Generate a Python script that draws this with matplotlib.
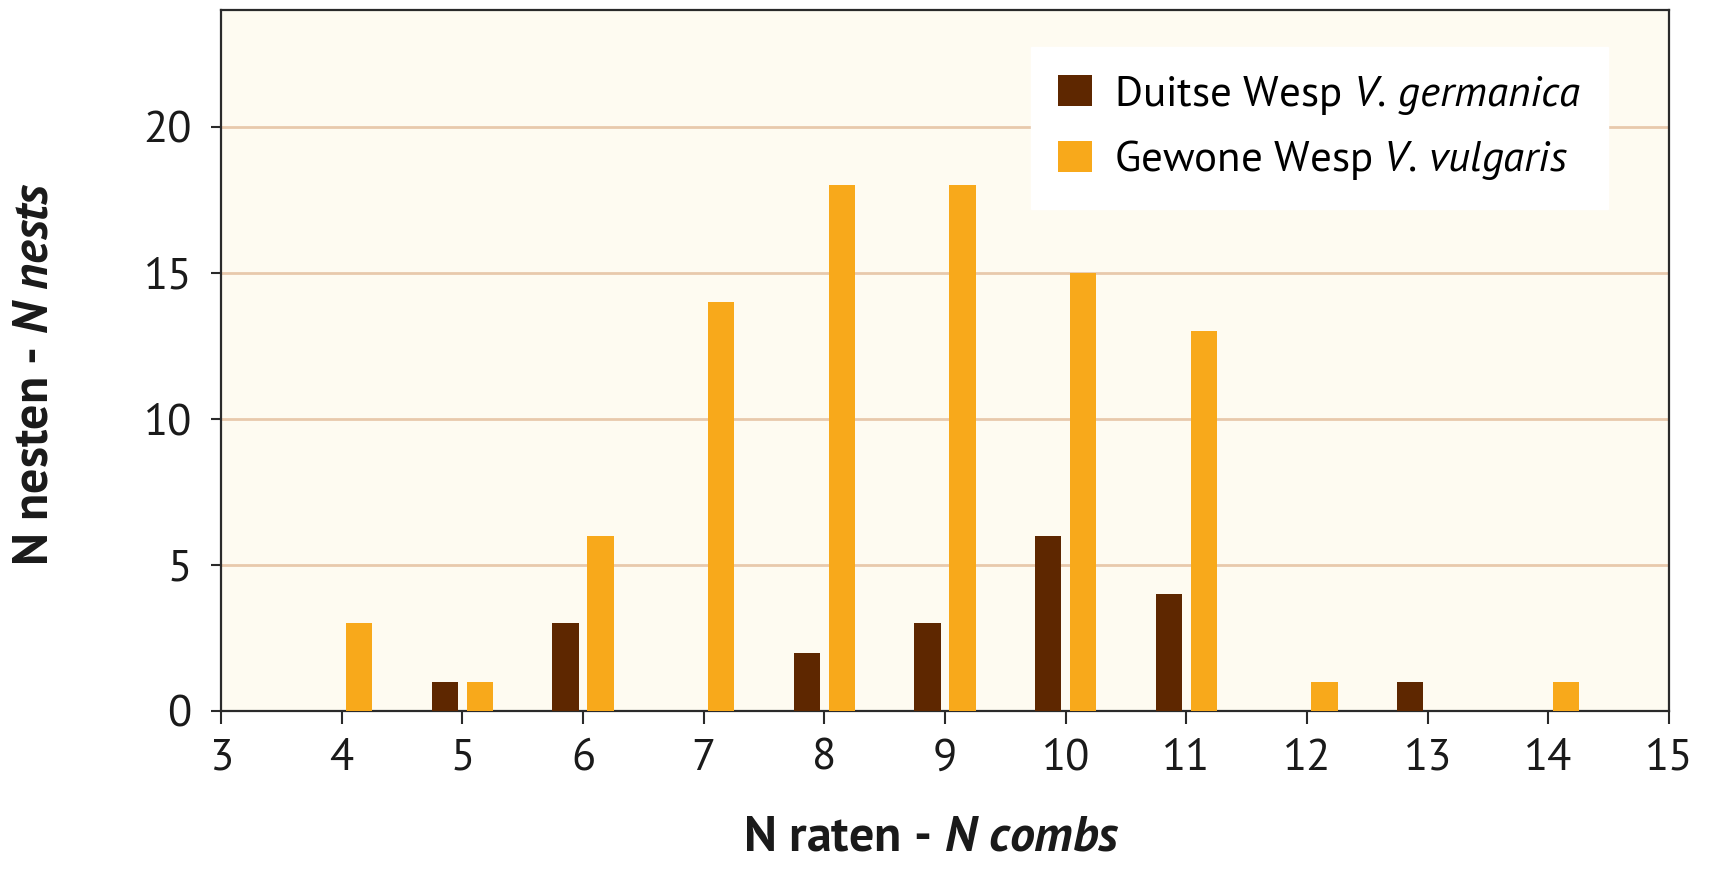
import matplotlib
matplotlib.use("Agg")
import matplotlib.pyplot as plt
from matplotlib.patches import Patch
from matplotlib import font_manager

# Number of combs per nest and how many nests had that many
combs_germanica = [5, 6, 8, 9, 10, 11, 13]
nests_germanica = [1, 3, 2, 3, 6, 4, 1]
combs_vulgaris = [4, 5, 6, 7, 8, 9, 10, 11, 12, 14]
nests_vulgaris = [3, 1, 6, 14, 18, 18, 15, 13, 1, 1]

label_germanica = r"Duitse Wesp $\mathit{V.\,germanica}$"
label_vulgaris = r"Gewone Wesp $\mathit{V.\,vulgaris}$"
xlabel = r"N raten - $\mathbfit{N}$ $\mathbfit{combs}$"
ylabel = r"N nesten - $\mathbfit{N}$ $\mathbfit{nests}$"
xticks = list(range(3, 16))
yticks = [0, 5, 10, 15, 20]

BROWN = "#5E2700"
ORANGE = "#F8A91B"
BG = "#FEFBF1"
GRID = "#E8C9AC"
INK = "#1a1a1a"


def first_font(candidates):
    available = {f.name for f in font_manager.fontManager.ttflist}
    for name in candidates:
        if name in available:
            return name
    return "DejaVu Sans"


body = first_font(["Myriad Pro", "PT Sans", "Source Sans 3", "Source Sans Pro",
                   "Open Sans"])

plt.rcParams["mathtext.fontset"] = "custom"
plt.rcParams["mathtext.it"] = f"{body}:italic"
plt.rcParams["mathtext.rm"] = body
plt.rcParams["mathtext.bf"] = f"{body}:bold"
plt.rcParams["mathtext.bfit"] = f"{body}:bold:italic"

fig = plt.figure(figsize=(17.1, 8.69), dpi=100)
ax = fig.add_axes([221 / 1710, 1 - 711 / 869, 1448 / 1710, 701 / 869])
ax.set_facecolor(BG)

w = 0.22
ax.bar([c - 0.145 for c in combs_germanica], nests_germanica, width=w,
       color=BROWN, zorder=3)
ax.bar([c + 0.145 for c in combs_vulgaris], nests_vulgaris, width=w,
       color=ORANGE, zorder=3)

ax.set_xlim(3, 15)
ax.set_ylim(0, 24)
ax.set_xticks(xticks)
ax.set_yticks(yticks)
for y in yticks[1:]:
    ax.axhline(y, color=GRID, lw=2, zorder=1)

for s in ax.spines.values():
    s.set_color("#2a2a2a")
    s.set_linewidth(1.6)
ax.tick_params(axis="x", length=9, width=1.5, pad=11, color="#2a2a2a",
               labelsize=32)
ax.tick_params(axis="y", length=7, width=1.5, pad=14, color="#2a2a2a",
               labelsize=32)
for t in ax.get_xticklabels() + ax.get_yticklabels():
    t.set_fontfamily(body)
    t.set_color(INK)

fig.text(931 / 1710, 1 - 838 / 869, xlabel, ha="center", va="center",
         fontsize=36, fontweight="bold", family=body, color=INK)
fig.text(35 / 1710, 1 - 374 / 869, ylabel, ha="center", va="center",
         rotation=90, fontsize=36, fontweight="bold", family=body, color=INK)

handles = [Patch(facecolor=BROWN, label=label_germanica),
           Patch(facecolor=ORANGE, label=label_vulgaris)]
leg = ax.legend(handles=handles, loc="upper left",
                bbox_to_anchor=((1031 - 221) / 1448, (711 - 47) / 701),
                frameon=True, fancybox=False, framealpha=1,
                prop={"family": body, "size": 31},
                handlelength=0.79, handleheight=0.74, handletextpad=0.51,
                labelspacing=0.5, borderpad=0.62, borderaxespad=0)
leg.get_frame().set_facecolor("white")
leg.get_frame().set_edgecolor("white")
leg.set_zorder(5)

fig.savefig("out.png", dpi=100, facecolor="white")
